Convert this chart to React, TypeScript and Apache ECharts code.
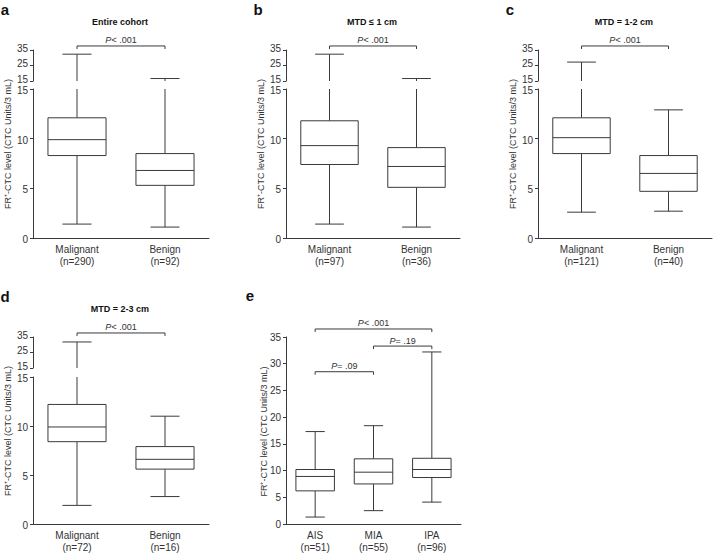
import React, { useEffect, useRef } from "react";
import * as echarts from "echarts";

// ---------- data ----------
const catA = ["Malignant\n(n=290)", "Benign\n(n=92)"];
const catB = ["Malignant\n(n=97)", "Benign\n(n=36)"];
const catC = ["Malignant\n(n=121)", "Benign\n(n=40)"];
const catD = ["Malignant\n(n=72)", "Benign\n(n=16)"];
const catE = ["AIS\n(n=51)", "MIA\n(n=55)", "IPA\n(n=96)"];

// [min, Q1, median, Q3, max]
const boxA = [[1.4, 8.3, 9.9, 12.1, 32.3], [1.1, 5.3, 6.8, 8.5, 16.6]];
const boxB = [[1.4, 7.4, 9.3, 11.8, 32.3], [1.1, 5.1, 7.2, 9.1, 16.6]];
const boxC = [[2.6, 8.5, 10.1, 12.1, 27.2], [2.7, 4.7, 6.5, 8.3, 12.9]];
const boxD = [[1.9, 8.4, 9.9, 12.2, 31.8], [2.8, 5.6, 6.6, 7.9, 11.0]];
const boxE = [[1.3, 6.2, 8.9, 10.2, 17.3], [2.5, 7.5, 9.7, 12.2, 18.4], [4.1, 8.7, 10.2, 12.3, 32.2]];

const lowerTicks = [0, 5, 10, 15];
const upperTicks = [15, 25, 35];
const breakValue = 15;

const titles = ["Entire cohort", "MTD \u2264 1 cm", "MTD = 1-2 cm", "MTD = 2-3 cm"];
const letters = ["a", "b", "c", "d", "e"];
// brackets: [fromIndex, toIndex, level]
const bracketsAD = [[0, 1, 37.6]];
const pAD = ["< .001"];
const bracketsE = [[0, 2, 36.5], [1, 2, 33.3], [0, 1, 28.5]];
const pE = ["< .001", "= .19", "= .09"];
const yName = "FR\u207A-CTC level (CTC Units/3 mL)";

// ---------- style / layout ----------
const FONT = "'Liberation Sans', Arial, Helvetica, sans-serif";
const LINE = "#3a3a3a";
const TEXT = "#333";

const brokenPanels = [
  { cats: catA, box: boxA, left: 33, width: 176, upTop: 50, upH: 31, lowTop: 89, lowH: 149 },
  { cats: catB, box: boxB, left: 286, width: 174, upTop: 50, upH: 31, lowTop: 89, lowH: 149 },
  { cats: catC, box: boxC, left: 538, width: 174, upTop: 50, upH: 31, lowTop: 89, lowH: 149 },
  { cats: catD, box: boxD, left: 33, width: 176, upTop: 337, upH: 31, lowTop: 377, lowH: 148 },
];
const panelE = { left: 286, width: 175, top: 337, height: 189 };

const lineStyle = { stroke: LINE, lineWidth: 1, fill: null as any };

function boxLower(top: number | null) {
  return (params: any, api: any) => {
    const i = api.value(0);
    const mn = api.value(1), q1 = api.value(2), md = api.value(3), q3 = api.value(4), mx = api.value(5);
    const x = api.coord([i, 0])[0];
    const band = api.size([1, 0])[0];
    const bw = band * 0.66;
    const cw = bw / 2;
    const y = (v: number) => api.coord([i, v])[1];
    const capped = top != null && mx > top;
    const yTop = y(capped ? (top as number) : mx);
    const children: any[] = [
      { type: "line", shape: { x1: x, y1: y(q3), x2: x, y2: yTop }, style: lineStyle },
      { type: "line", shape: { x1: x, y1: y(q1), x2: x, y2: y(mn) }, style: lineStyle },
      { type: "line", shape: { x1: x - cw / 2, y1: y(mn), x2: x + cw / 2, y2: y(mn) }, style: lineStyle },
      { type: "rect", shape: { x: x - bw / 2, y: y(q3), width: bw, height: y(q1) - y(q3) }, style: { stroke: LINE, lineWidth: 1, fill: "#fff" } },
      { type: "line", shape: { x1: x - bw / 2, y1: y(md), x2: x + bw / 2, y2: y(md) }, style: lineStyle },
    ];
    if (!capped) {
      children.push({ type: "line", shape: { x1: x - cw / 2, y1: y(mx), x2: x + cw / 2, y2: y(mx) }, style: lineStyle });
    }
    return { type: "group", children };
  };
}

function boxUpper(params: any, api: any) {
  const i = api.value(0);
  const mx = api.value(5);
  if (mx <= breakValue) return { type: "group", children: [] };
  const x = api.coord([i, 0])[0];
  const bw = api.size([1, 0])[0] * 0.66;
  const cw = bw / 2;
  const y0 = api.coord([i, breakValue])[1];
  const y1 = api.coord([i, mx])[1];
  return {
    type: "group",
    children: [
      { type: "line", shape: { x1: x, y1: y0, x2: x, y2: y1 }, style: lineStyle },
      { type: "line", shape: { x1: x - cw / 2, y1: y1, x2: x + cw / 2, y2: y1 }, style: lineStyle },
    ],
  };
}

function bracket(labels: string[]) {
  return (params: any, api: any) => {
    const a = api.coord([api.value(0), api.value(2)]);
    const b = api.coord([api.value(1), api.value(2)]);
    const y = a[1];
    return {
      type: "group",
      children: [
        { type: "polyline", shape: { points: [[a[0], y + 3], [a[0], y], [b[0], y], [b[0], y + 3]] }, style: lineStyle },
        {
          type: "text",
          x: (a[0] + b[0]) / 2,
          y: y - 1,
          style: {
            text: "{i|P}{n|" + labels[params.dataIndex] + "}",
            align: "center",
            verticalAlign: "bottom",
            rich: {
              i: { fontStyle: "italic", fontSize: 9, fontFamily: FONT, fill: TEXT },
              n: { fontSize: 9, fontFamily: FONT, fill: TEXT },
            },
          },
        },
      ],
    };
  };
}

const axisLabelBase = { fontSize: 10, color: TEXT, fontFamily: FONT };

function buildOption() {
  const grid: any[] = [];
  const xAxis: any[] = [];
  const yAxis: any[] = [];
  const series: any[] = [];
  const graphic: any[] = [];

  brokenPanels.forEach((p, k) => {
    const gUp = grid.length;
    grid.push({ left: p.left, top: p.upTop, width: p.width, height: p.upH });
    const gLow = grid.length;
    grid.push({ left: p.left, top: p.lowTop, width: p.width, height: p.lowH });

    xAxis.push({ gridIndex: gUp, type: "category", data: p.cats, show: false });
    xAxis.push({
      gridIndex: gLow, type: "category", data: p.cats,
      axisLine: { lineStyle: { color: LINE, width: 1 } },
      axisTick: { alignWithLabel: true, length: 3, lineStyle: { color: LINE } },
      axisLabel: { ...axisLabelBase, lineHeight: 12, margin: 5 },
    });
    yAxis.push({
      gridIndex: gUp, type: "value", min: 15, max: 35,
      axisLine: { show: true, lineStyle: { color: LINE } },
      axisTick: { show: true, length: 3, customValues: upperTicks, lineStyle: { color: LINE } },
      axisLabel: { ...axisLabelBase, customValues: upperTicks, margin: 5, verticalAlign: "bottom", lineHeight: 4 },
      splitLine: { show: false },
    });
    yAxis.push({
      gridIndex: gLow, type: "value", min: 0, max: 15, interval: 5,
      axisLine: { show: true, lineStyle: { color: LINE } },
      axisTick: { show: true, length: 3, customValues: lowerTicks, lineStyle: { color: LINE } },
      axisLabel: { ...axisLabelBase, customValues: lowerTicks, margin: 5, verticalAlign: "top", lineHeight: 3 },
      splitLine: { show: false },
    });

    const data = p.box.map((b, i) => [i, ...b]);
    series.push({
      type: "custom", xAxisIndex: gLow, yAxisIndex: gLow, renderItem: boxLower(breakValue),
      encode: { x: 0, y: [1, 2, 3, 4, 5] }, data, silent: true,
    });
    series.push({
      type: "custom", xAxisIndex: gUp, yAxisIndex: gUp, renderItem: boxUpper,
      encode: { x: 0, y: [1, 2, 3, 4, 5] }, data, silent: true,
    });
    series.push({
      type: "custom", xAxisIndex: gUp, yAxisIndex: gUp, renderItem: bracket(pAD),
      encode: { x: [0, 1], y: 2 }, data: bracketsAD, silent: true,
    });

    graphic.push({
      type: "text", x: p.left + p.width / 2 - 1, y: p.upTop - 28,
      style: { text: titles[k], align: "center", verticalAlign: "middle", font: "bold 9px " + FONT, fill: "#111" },
    });
    graphic.push({
      type: "text", x: p.left - 28, y: p.upTop - 41,
      style: { text: letters[k], align: "center", verticalAlign: "middle", font: "bold 15px " + FONT, fill: "#111" },
    });
    graphic.push({
      type: "text", x: p.left - 25, y: (p.upTop + p.lowTop + p.lowH) / 2, rotation: Math.PI / 2,
      style: { text: yName, align: "center", verticalAlign: "middle", font: "9px " + FONT, fill: TEXT },
    });
  });

  // panel e
  const gE = grid.length;
  grid.push({ left: panelE.left, top: panelE.top, width: panelE.width, height: panelE.height });
  xAxis.push({
    gridIndex: gE, type: "category", data: catE,
    axisLine: { lineStyle: { color: LINE, width: 1 } },
    axisTick: { alignWithLabel: true, length: 3, lineStyle: { color: LINE } },
    axisLabel: { ...axisLabelBase, lineHeight: 12, margin: 5 },
  });
  yAxis.push({
    gridIndex: gE, type: "value", min: 0, max: 35, interval: 5,
    axisLine: { show: true, lineStyle: { color: LINE } },
    axisTick: { show: true, length: 3, lineStyle: { color: LINE } },
    axisLabel: { ...axisLabelBase, margin: 5 },
    splitLine: { show: false },
  });
  series.push({
    type: "custom", xAxisIndex: gE, yAxisIndex: gE, renderItem: boxLower(null),
    encode: { x: 0, y: [1, 2, 3, 4, 5] }, data: boxE.map((b, i) => [i, ...b]), silent: true,
  });
  series.push({
    type: "custom", xAxisIndex: gE, yAxisIndex: gE, renderItem: bracket(pE),
    encode: { x: [0, 1], y: 2 }, data: bracketsE, silent: true,
  });
  graphic.push({
    type: "text", x: panelE.left - 36, y: panelE.top - 42,
    style: { text: letters[4], align: "center", verticalAlign: "middle", font: "bold 15px " + FONT, fill: "#111" },
  });
  graphic.push({
    type: "text", x: panelE.left - 22, y: panelE.top + panelE.height / 2, rotation: Math.PI / 2,
    style: { text: yName, align: "center", verticalAlign: "middle", font: "9px " + FONT, fill: TEXT },
  });

  return { animation: false, backgroundColor: "#fff", grid, xAxis, yAxis, series, graphic };
}

export default function App() {
  const ref = useRef<HTMLDivElement>(null);
  useEffect(() => {
    if (!ref.current) return;
    const chart = echarts.init(ref.current, undefined, { renderer: "svg" });
    chart.setOption(buildOption() as any);
    return () => chart.dispose();
  }, []);
  return <div ref={ref} style={{ position: "fixed", left: 0, top: 0, width: 714, height: 553 }} />;
}
